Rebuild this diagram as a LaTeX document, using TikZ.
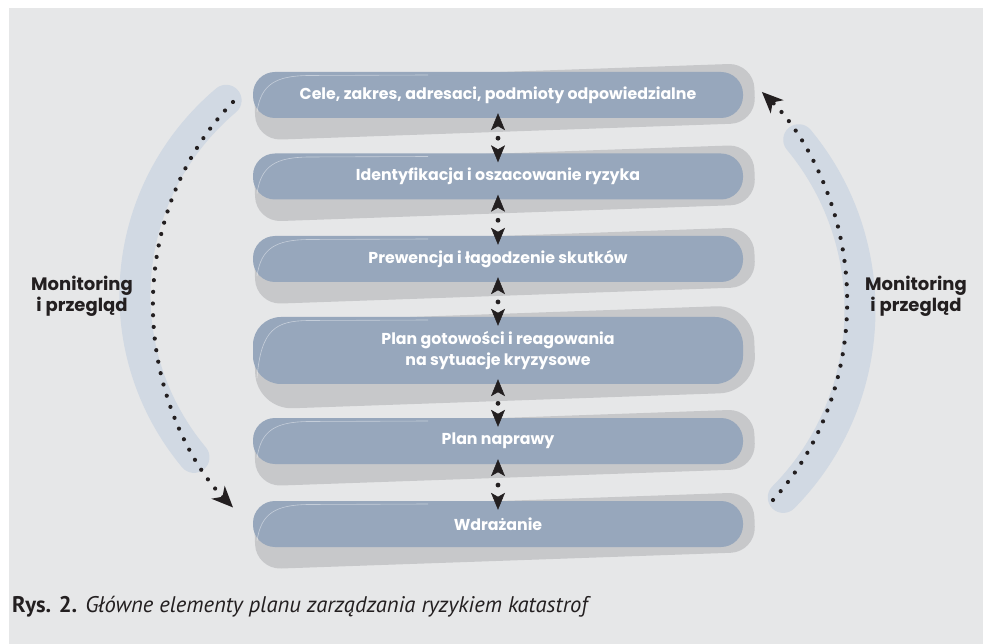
\documentclass[tikz,border=0pt]{standalone}
\usepackage{fontspec}
\setmainfont{Poppins}
\newfontfamily\capfont{PT Sans}
\usetikzlibrary{arrows.meta}
\definecolor{bgc}{HTML}{E6E7E8}
\definecolor{boxc}{HTML}{97A7BC}
\definecolor{shc}{HTML}{C7C8CA}
\definecolor{bandc}{HTML}{D1D9E3}
\definecolor{txtc}{HTML}{231F20}
\tikzset{
  box/.style={fill=boxc, minimum width=490pt, text=white, inner sep=0pt,
    font=\bfseries\fontsize{15.8}{21}\selectfont, align=center, rounded corners=22pt},
  link/.style={{Stealth[length=17pt,width=14pt,inset=4pt]}-{Stealth[length=17pt,width=14pt,inset=4pt]},
    txtc, line width=0.5pt, dash pattern=on 0pt off 200pt, line cap=butt,
    shorten <=-5pt, shorten >=-9pt},
  midot/.style={circle, fill=txtc, inner sep=0pt, minimum size=4.8pt},
  monarc/.style={txtc, line width=4.2pt, line cap=round, dash pattern=on 0pt off 11.7pt,
    -{Stealth[length=21pt,width=18pt,inset=6pt]}},
  band/.style={bandc, line width=31pt, line cap=round},
  mlabel/.style={txtc, font=\bfseries\fontsize{18}{21}\selectfont, align=center},
  gloss/.style={white, opacity=0.45, line width=0.6pt},
}
\newcommand\shbox[2]{%
  \begin{scope}[shift={(498,#1)}, rotate=2]
    \fill[shc, rounded corners={0.42*#2*1.3pt}] (-243.5,{7-0.65*#2}) rectangle (256.5,{7+0.65*#2});
  \end{scope}}
\newcommand\glossline[2]{%
  \begin{scope}[shift={(498,#1)}]
    \draw[gloss] (-241,{#2/2-6}) .. controls (-237,{-#2/2+12}) and (-222,{-#2/2+4}) .. (-190,{-#2/2+3.5}) -- (-70,{-#2/2+3});
  \end{scope}}
\begin{document}
\begin{tikzpicture}[x=1pt, y=-1pt]
\useasboundingbox (0,0) rectangle (983,644);
\fill[white] (0,0) rectangle (983,644);
\fill[bgc] (9,8) rectangle (983,644);

% side bands
\draw[band] (226.1,100.3) arc[start angle=229, end angle=141, x radius=265, y radius=258];
\draw[band] (798.7,139.7) arc[start angle=-40, end angle=45, x radius=262, y radius=265];

% shadows
\shbox{95}{46}
\shbox{176.5}{46}
\shbox{259}{46}
\shbox{350.5}{67}
\shbox{441}{46}
\shbox{524}{46}

% boxes
\node[box, minimum height=46pt] (b1) at (498,95) {Cele, zakres, adresaci, podmioty odpowiedzialne};
\node[box, minimum height=46pt] (b2) at (498,176.5) {Identyfikacja i oszacowanie ryzyka};
\node[box, minimum height=46pt] (b3) at (498,259) {Prewencja i łagodzenie skutków};
\node[box, minimum height=67pt, rounded corners=28pt] (b4) at (498,350.5) {Plan gotowości i reagowania\\na sytuacje kryzysowe};
\node[box, minimum height=46pt] (b5) at (498,441) {Plan naprawy};
\node[box, minimum height=46pt] (b6) at (498,524) {Wdrażanie};

\glossline{95}{46}
\glossline{176.5}{46}
\glossline{259}{46}
\glossline{350.5}{67}
\glossline{441}{46}
\glossline{524}{46}

% links between boxes
\draw[link] (b1) -- node[midot, pos=0.57]{} (b2);
\draw[link] (b2) -- node[midot, pos=0.57]{} (b3);
\draw[link] (b3) -- node[midot, pos=0.57]{} (b4);
\draw[link] (b4) -- node[midot, pos=0.57]{} (b5);
\draw[link] (b5) -- node[midot, pos=0.57]{} (b6);

% monitoring arcs
\coordinate (ls) at (233,102);
\coordinate (rs) at (773,500);
\draw[monarc] (ls) arc[start angle=227.5, end angle=132.5, x radius=247, y radius=275];
\draw[monarc] (rs) arc[start angle=45.5, end angle=-49, x radius=248, y radius=278];

\node[mlabel] (ml) at (82,296) {Monitoring\\i przegląd};
\node[mlabel] (mr) at (916,296) {Monitoring\\i przegląd};

\node[anchor=base west, inner sep=0pt, text=txtc, font=\capfont\fontsize{22.6}{26}\selectfont] (cap) at (12,612)
  {\textbf{Rys. 2.} \textit{Główne elementy planu zarządzania ryzykiem katastrof}};
\end{tikzpicture}
\end{document}
